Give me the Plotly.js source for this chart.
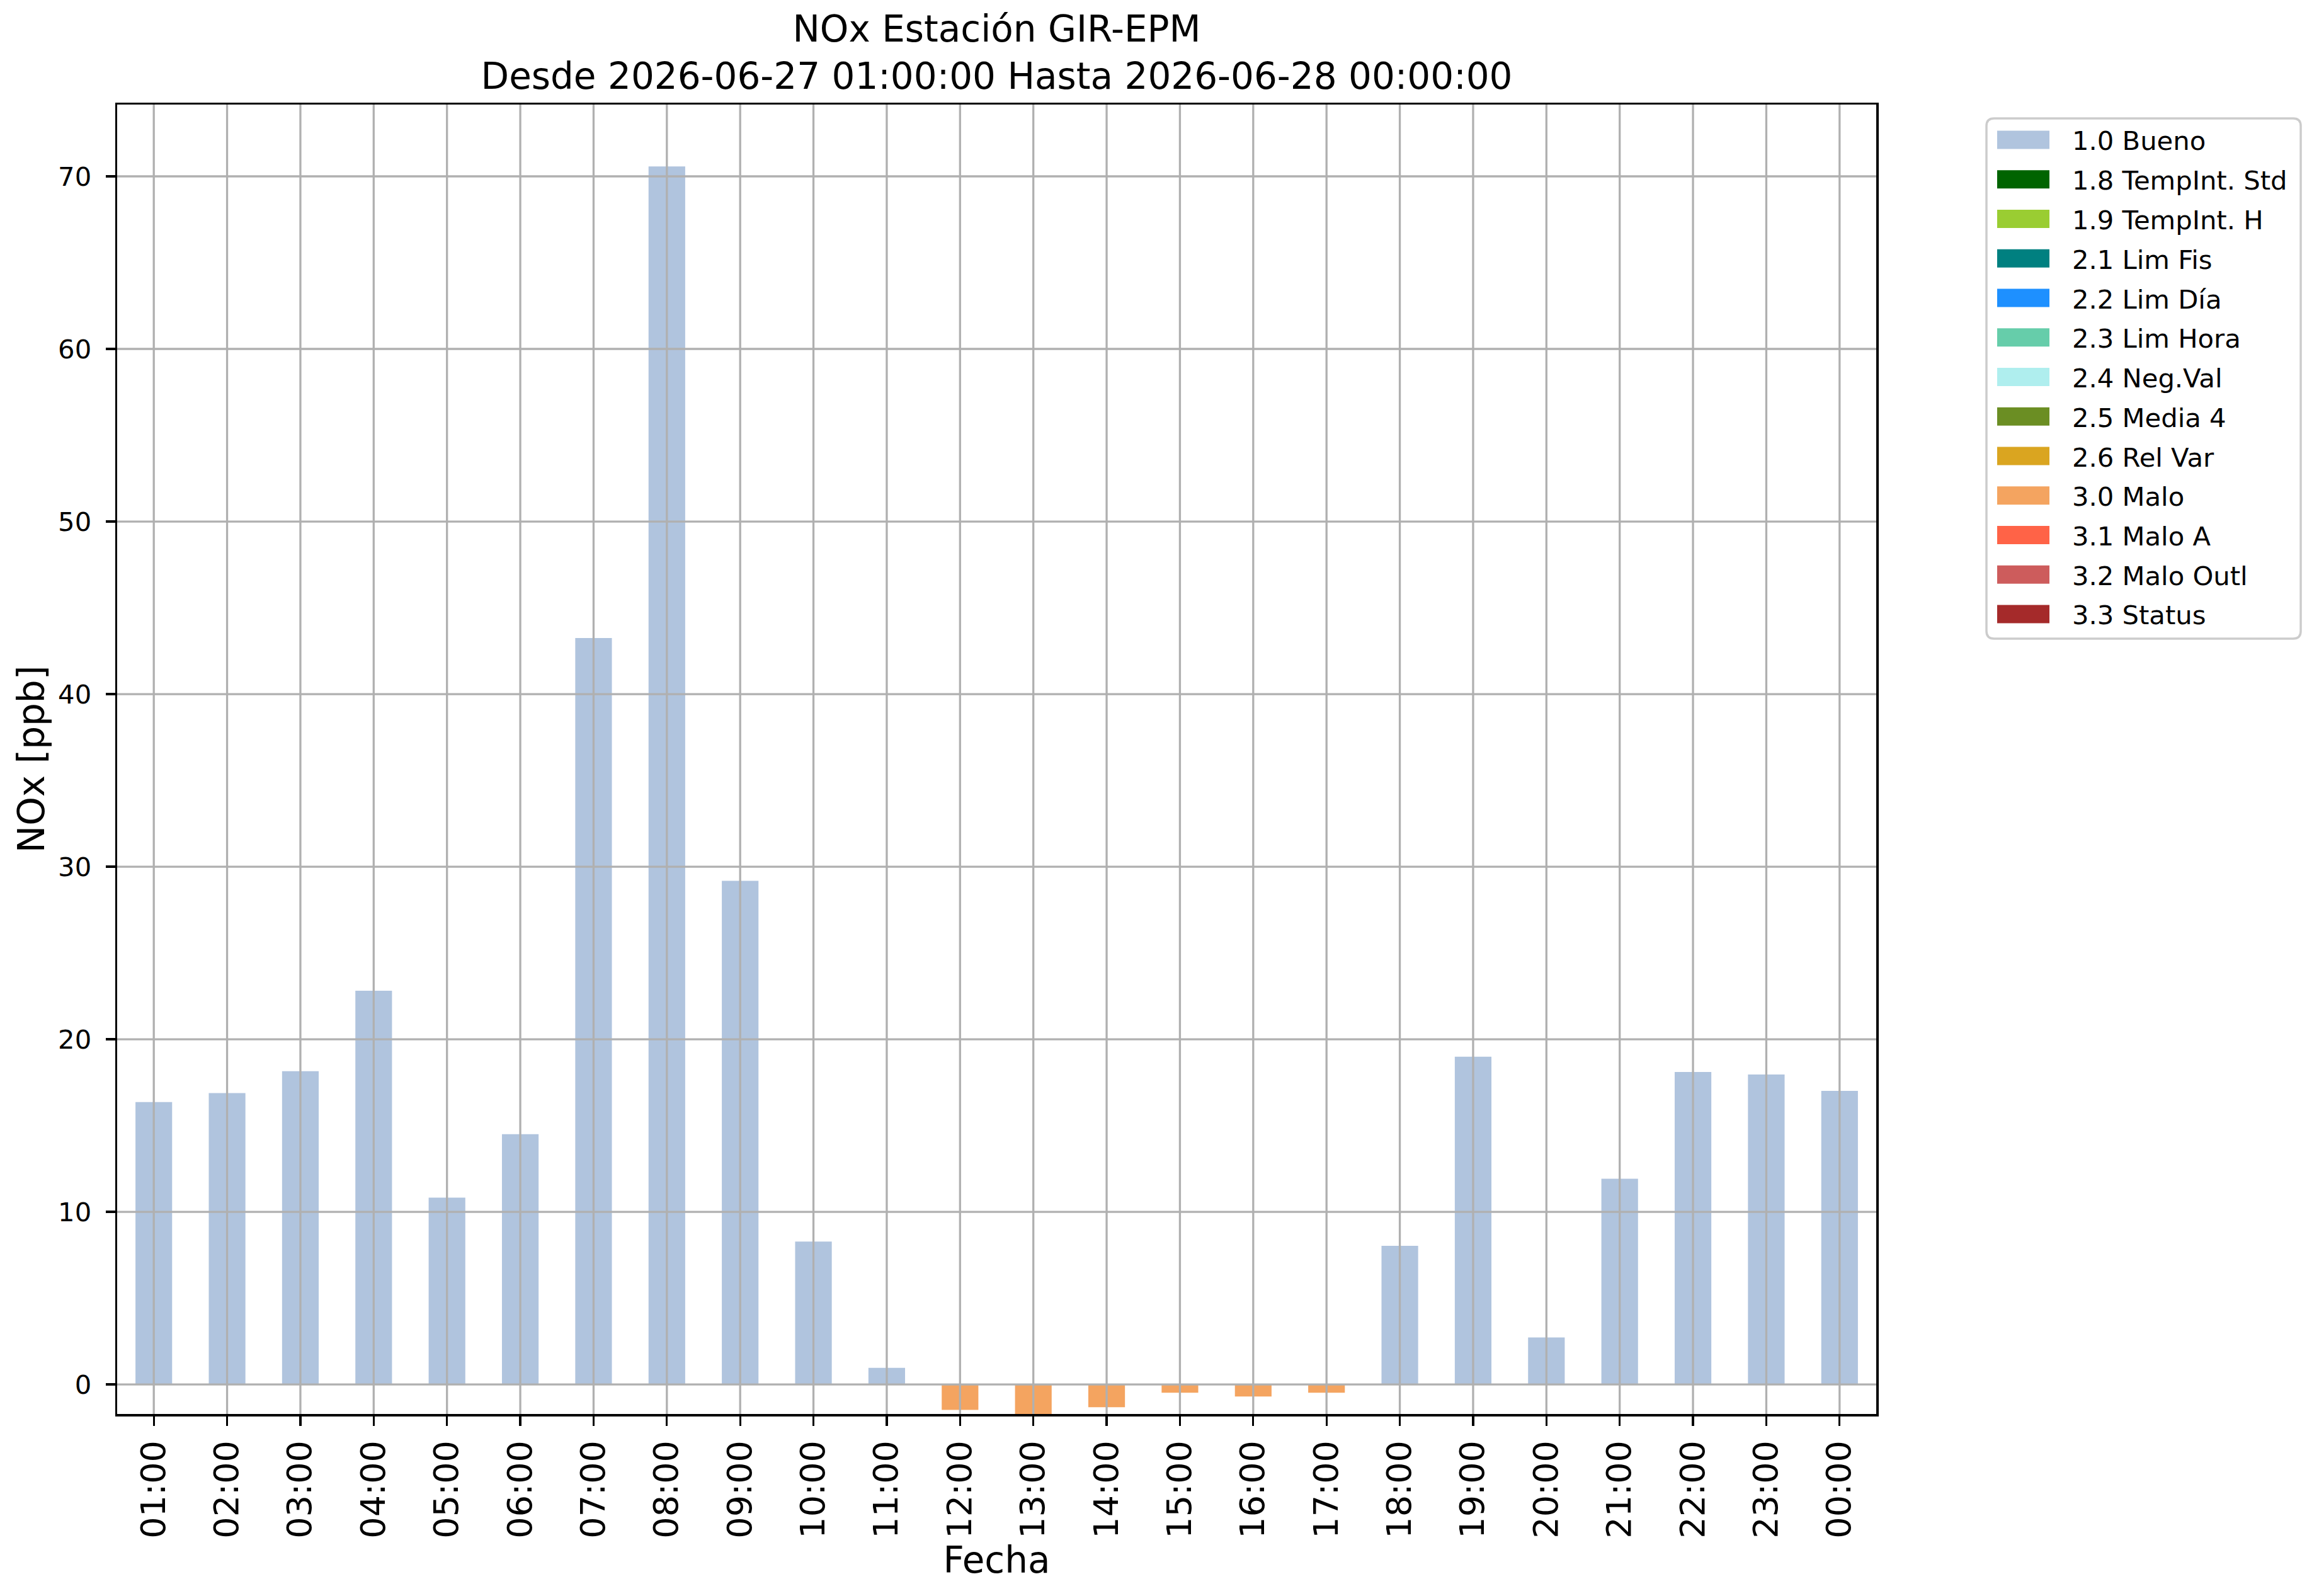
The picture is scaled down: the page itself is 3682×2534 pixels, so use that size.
<!DOCTYPE html>
<html>
<head>
<meta charset="utf-8">
<script src="https://cdn.plot.ly/plotly-3.0.1.min.js"></script>
<style>
  html, body { margin: 0; padding: 0; background: #ffffff; }
  #chart { width: 3682px; height: 2534px; }
</style>
</head>
<body>
<div id="chart"></div>
<script>
// NOx hourly bars, coloured by quality flag

const hours = ['01:00', '02:00', '03:00', '04:00', '05:00', '06:00', '07:00', '08:00',
    '09:00', '10:00', '11:00', '12:00', '13:00', '14:00', '15:00', '16:00',
    '17:00', '18:00', '19:00', '20:00', '21:00', '22:00', '23:00', '00:00'];

// values per flag (null = no value with that flag at that hour)
const bueno = [16.36, 16.88, 18.15, 22.81, 10.83, 14.50, 43.25, 70.57,
    29.18, 8.28, 0.96, null, null, null, null, null,
    null, 8.03, 18.99, 2.72, 11.92, 18.11, 17.96, 17.01];
const malo = [null, null, null, null, null, null, null, null,
    null, null, null, -1.47, -1.71, -1.32, -0.48, -0.70,
    -0.48, null, null, null, null, null, null, null];
const noData = hours.map(() => null);

const flagNames = ['1.0 Bueno', '1.8 TempInt. Std', '1.9 TempInt. H', '2.1 Lim Fis',
    '2.2 Lim Día', '2.3 Lim Hora', '2.4 Neg.Val', '2.5 Media 4',
    '2.6 Rel Var', '3.0 Malo', '3.1 Malo A', '3.2 Malo Outl', '3.3 Status'];
const flagColors = ['#b0c4de', '#006400', '#9acd32', '#008080',
    '#1e90ff', '#66cdaa', '#afeeee', '#6b8e23',
    '#daa520', '#f4a460', '#ff6347', '#cd5c5c', '#a52a2a'];
const flagValues = [bueno, noData, noData, noData,
    noData, noData, noData, noData,
    noData, malo, noData, noData, noData];

const yTicks = [0, 10, 20, 30, 40, 50, 60, 70];

// figure geometry (pixels)
const W = 3682, H = 2534;
const M = { l: 186, r: 703, t: 166, b: 289 };
const plotW = W - M.l - M.r;
const plotH = H - M.t - M.b;
const px2x = px => (px - M.l) / plotW;
const px2y = py => (H - M.b - py) / plotH;

const FONT = 'DejaVu Sans, Liberation Sans, sans-serif';
const GRID = '#b0b0b0';

const data = flagNames.map((name, i) => ({
    type: 'bar',
    name: name,
    x: hours,
    y: flagValues[i],
    width: 0.5,
    marker: { color: flagColors[i], line: { width: 0 } },
    showlegend: false,
    hoverinfo: 'x+y+name'
}));

// grid drawn above the bars, like matplotlib
const shapes = [];
hours.forEach(h => {
    shapes.push({
        type: 'line', layer: 'above', xref: 'x', yref: 'paper',
        x0: h, x1: h, y0: 0, y1: 1,
        line: { color: GRID, width: 3.3 }
    });
});
yTicks.forEach(v => {
    shapes.push({
        type: 'line', layer: 'above', xref: 'paper', yref: 'y',
        x0: 0, x1: 1, y0: v, y1: v,
        line: { color: GRID, width: 3.3 }
    });
});

// legend box (drawn by hand to get matplotlib-sized swatches)
const lg = { x0: 3154, x1: 3653, y0: 188, y1: 1014, r: 12 };
const boxPath = [
    `M${px2x(lg.x0 + lg.r)},${px2y(lg.y0)}`,
    `L${px2x(lg.x1 - lg.r)},${px2y(lg.y0)}`,
    `Q${px2x(lg.x1)},${px2y(lg.y0)} ${px2x(lg.x1)},${px2y(lg.y0 + lg.r)}`,
    `L${px2x(lg.x1)},${px2y(lg.y1 - lg.r)}`,
    `Q${px2x(lg.x1)},${px2y(lg.y1)} ${px2x(lg.x1 - lg.r)},${px2y(lg.y1)}`,
    `L${px2x(lg.x0 + lg.r)},${px2y(lg.y1)}`,
    `Q${px2x(lg.x0)},${px2y(lg.y1)} ${px2x(lg.x0)},${px2y(lg.y1 - lg.r)}`,
    `L${px2x(lg.x0)},${px2y(lg.y0 + lg.r)}`,
    `Q${px2x(lg.x0)},${px2y(lg.y0)} ${px2x(lg.x0 + lg.r)},${px2y(lg.y0)}`,
    'Z'
].join(' ');
shapes.push({
    type: 'path', layer: 'above', xref: 'paper', yref: 'paper',
    path: boxPath, fillcolor: 'rgba(255,255,255,0.8)',
    line: { color: '#cccccc', width: 3.5 }
});

const annotations = [];
flagNames.forEach((name, i) => {
    const cy = 222 + i * 62.75;
    shapes.push({
        type: 'rect', layer: 'above', xref: 'paper', yref: 'paper',
        x0: px2x(3171), x1: px2x(3254), y0: px2y(cy + 14.5), y1: px2y(cy - 14.5),
        fillcolor: flagColors[i], line: { width: 0 }
    });
    annotations.push({
        xref: 'paper', yref: 'paper',
        x: px2x(3288), y: px2y(cy + 2),
        xanchor: 'left', yanchor: 'middle',
        text: name, showarrow: false,
        font: { family: FONT, size: 41.7, color: '#000000' }
    });
});

const layout = {
    width: W,
    height: H,
    autosize: false,
    margin: M,
    paper_bgcolor: '#ffffff',
    plot_bgcolor: '#ffffff',
    font: { family: FONT, color: '#000000' },
    barmode: 'relative',
    showlegend: false,
    title: {
        text: 'NOx Estación GIR-EPM<br>Desde 2026-06-27 01:00:00 Hasta 2026-06-28 00:00:00',
        font: { family: FONT, size: 58, color: '#000000' },
        xref: 'paper', x: 0.5, xanchor: 'center',
        yref: 'container', y: 1 - 66 / H, yanchor: 'top'
    },
    xaxis: {
        type: 'category',
        range: [-0.5, hours.length - 0.5],
        tickangle: -90,
        ticks: 'outside', ticklen: 15, tickwidth: 3.3, tickcolor: '#000000',
        ticklabelstandoff: 2,
        tickfont: { family: FONT, size: 54, color: '#000000' },
        showline: true, linecolor: '#000000', linewidth: 3.5, mirror: true,
        showgrid: false, zeroline: false,
        automargin: false,
        title: { text: 'Fecha', font: { family: FONT, size: 58, color: '#000000' }, standoff: 0 }
    },
    yaxis: {
        range: [-1.71, 74.16],
        tickvals: yTicks,
        ticktext: yTicks.map(String),
        ticks: 'outside', ticklen: 15, tickwidth: 3.3, tickcolor: '#000000',
        ticklabelstandoff: 14,
        tickfont: { family: FONT, size: 41.7, color: '#000000' },
        showline: true, linecolor: '#000000', linewidth: 3.5, mirror: true,
        showgrid: false, zeroline: false,
        automargin: false,
        title: { text: 'NOx [ppb]', font: { family: FONT, size: 58, color: '#000000' }, standoff: 4 }
    },
    shapes: shapes,
    annotations: annotations
};

const config = { responsive: false, displayModeBar: false, staticPlot: true };

Plotly.newPlot('chart', data, layout, config);
</script>
</body>
</html>
